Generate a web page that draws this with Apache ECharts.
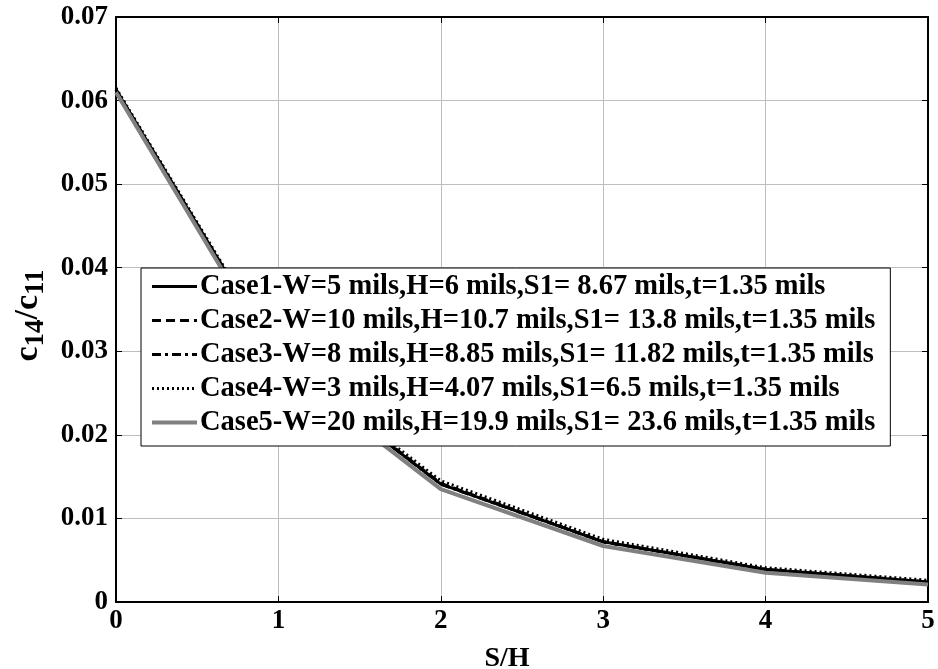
<!DOCTYPE html>
<html>
<head>
<meta charset="utf-8">
<script src="https://cdn.jsdelivr.net/npm/echarts@6/dist/echarts.min.js"></script>
<style>html,body{margin:0;padding:0;background:#fff}#c{width:938px;height:669px}</style>
</head>
<body>
<div id="c"></div>
<script>
const xValues = [0, 1, 2, 3, 4, 5];
const case1 = [0.0613, 0.0290, 0.0141, 0.0072, 0.0039, 0.0024];
const case2 = [0.0613, 0.0291, 0.0142, 0.0072, 0.0039, 0.0024];
const case3 = [0.0613, 0.0290, 0.0141, 0.0072, 0.0039, 0.0024];
const case4 = [0.0615, 0.0293, 0.0145, 0.0075, 0.0041, 0.0026];
const case5 = [0.0610, 0.0285, 0.0135, 0.0067, 0.0035, 0.0021];
const seriesNames = [
  'Case1-W=5 mils,H=6 mils,S1= 8.67 mils,t=1.35 mils',
  'Case2-W=10 mils,H=10.7 mils,S1= 13.8 mils,t=1.35 mils',
  'Case3-W=8 mils,H=8.85 mils,S1= 11.82 mils,t=1.35 mils',
  'Case4-W=3 mils,H=4.07 mils,S1=6.5 mils,t=1.35 mils',
  'Case5-W=20 mils,H=19.9 mils,S1= 23.6 mils,t=1.35 mils'
];
const xTicks = ['0', '1', '2', '3', '4', '5'];
const yTicks = ['0', '0.01', '0.02', '0.03', '0.04', '0.05', '0.06', '0.07'];

const FONT = "'Liberation Serif','Times New Roman',serif";
const pairs = arr => xValues.map((x, i) => [x, arr[i]]);
const styles = [
  {color: '#000', width: 3, type: 'solid'},
  {color: '#000', width: 3, type: [9, 5]},
  {color: '#000', width: 3, type: [9, 4, 3, 4]},
  {color: '#000', width: 3, type: [2, 3]},
  {color: '#808080', width: 4, type: 'solid'}
];
const dataByIdx = [case1, case2, case3, case4, case5];
const series = [0,1,2,3,4].map(i => ({
  name: seriesNames[i],
  type: 'line',
  data: pairs(dataByIdx[i]),
  symbol: 'none',
  showSymbol: false,
  z: 2,
  zlevel: 0,
  lineStyle: styles[i],
  itemStyle: {color: styles[i].color},
  animation: false
}));
const legendData = seriesNames.map((n, i) => ({
  name: n,
  lineStyle: {color: styles[i].color, width: styles[i].width, type: styles[i].type}
}));

const chart = echarts.init(document.getElementById('c'), null, {renderer: 'canvas'});
const axisLbl = {fontFamily: FONT, fontWeight: 'bold', fontSize: 27, color: '#000'};
chart.setOption({
  animation: false,
  backgroundColor: '#fff',
  grid: {left: 116, top: 17, right: 10, bottom: 67, containLabel: false, outerBoundsMode: 'none'},
  legend: {
    orient: 'vertical',
    left: 141, top: 268,
    z: 20, zlevel: 1,
    data: legendData,
    itemWidth: 45, itemHeight: 14, itemGap: 5,
    padding: [4, 15, 9, 9],
    backgroundColor: '#fff',
    borderColor: '#000', borderWidth: 1,
    itemStyle: {color: 'rgba(0,0,0,0)', borderColor: 'rgba(0,0,0,0)', borderWidth: 0},
    textStyle: {fontFamily: FONT, fontWeight: 'bold', fontSize: 28.5, color: '#000', padding: [0,0,0,-2]},
    selectedMode: false
  },
  xAxis: [{
    type: 'value', min: 0, max: 5, interval: 1,
    name: 'S/H', nameLocation: 'middle', nameGap: 43,
    nameTextStyle: {fontFamily: FONT, fontWeight: 'bold', fontSize: 28, color: '#000', padding: [0, 30, 0, 0]},
    axisLine: {show: true, lineStyle: {color: '#000', width: 2}},
    axisTick: {show: true, inside: true, length: 6, lineStyle: {color: '#000'}},
    axisLabel: Object.assign({margin: 6, formatter: v => xTicks[Math.round(v)]}, axisLbl),
    splitLine: {show: true, lineStyle: {color: '#bdbdbd', width: 1}}
  }, {
    type: 'value', min: 0, max: 5, interval: 1, position: 'top',
    axisLine: {show: true, onZero: false, lineStyle: {color: '#000', width: 2}},
    axisTick: {show: true, inside: true, length: 6, lineStyle: {color: '#000'}},
    axisLabel: {show: false}, splitLine: {show: false}
  }],
  yAxis: [{
    type: 'value', min: 0, max: 0.07, interval: 0.01,
    name: 'c{s|14}/c{s|11}', nameLocation: 'middle', nameGap: 58, nameRotate: 90,
    nameTextStyle: {fontFamily: FONT, fontWeight: 'bold', fontSize: 34, color: '#000', padding: [0, 12, 0, 0],
      rich: {s: {fontFamily: FONT, fontWeight: 'bold', fontSize: 27, color: '#000', padding: [17, 0, 0, 0]}}},
    axisLine: {show: true, lineStyle: {color: '#000', width: 2}},
    axisTick: {show: true, inside: true, length: 6, lineStyle: {color: '#000'}},
    axisLabel: Object.assign({margin: 8, formatter: v => yTicks[Math.round(v * 100)]}, axisLbl),
    splitLine: {show: true, lineStyle: {color: '#bdbdbd', width: 1}}
  }, {
    type: 'value', min: 0, max: 0.07, interval: 0.01, position: 'right',
    axisLine: {show: true, onZero: false, lineStyle: {color: '#000', width: 2}},
    axisTick: {show: true, inside: true, length: 6, lineStyle: {color: '#000'}},
    axisLabel: {show: false}, splitLine: {show: false}
  }],
  series: series
});
</script>
</body>
</html>
